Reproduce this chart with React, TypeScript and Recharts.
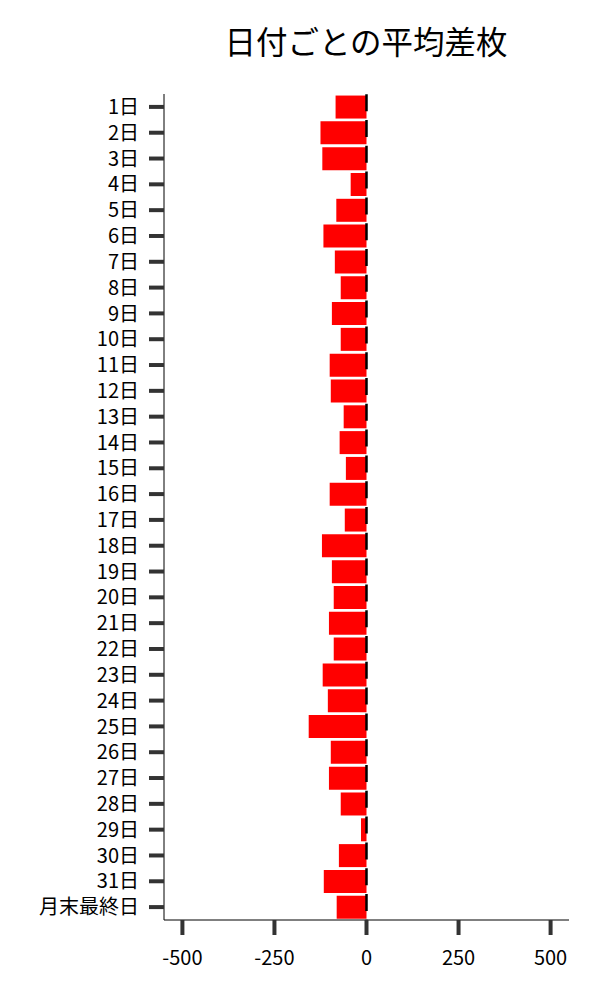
import { BarChart, Bar, XAxis, YAxis, ReferenceLine } from 'recharts';

const days = [
  '1日', '2日', '3日', '4日', '5日', '6日', '7日', '8日', '9日', '10日',
  '11日', '12日', '13日', '14日', '15日', '16日', '17日', '18日', '19日', '20日',
  '21日', '22日', '23日', '24日', '25日', '26日', '27日', '28日', '29日', '30日',
  '31日', '月末最終日',
];

const avgDiff = [
  -84, -125, -120, -43, -82, -117, -86, -70, -94, -70,
  -100, -97, -62, -73, -56, -100, -59, -121, -94, -89,
  -102, -89, -119, -105, -157, -97, -102, -70, -15, -75,
  -116, -81,
];

const xTicks = [-500, -250, 0, 250, 500];

const FONT = '"Noto Sans CJK JP", "Noto Sans", sans-serif';

export default function App() {
  const data = days.map((day, i) => ({ day, value: avgDiff[i] }));

  return (
    <div style={{ position: 'absolute', left: 0, top: 0, width: 600, height: 1000, background: '#fff' }}>
      <div
        style={{
          position: 'absolute',
          left: 166,
          width: 400,
          top: 20,
          textAlign: 'center',
          fontFamily: FONT,
          fontSize: 31.5,
          color: '#000',
          lineHeight: '40px',
          whiteSpace: 'nowrap',
        }}
      >
        日付ごとの平均差枚
      </div>
      <BarChart
        width={600}
        height={1000}
        data={data}
        layout="vertical"
        margin={{ top: 94, right: 31, bottom: 30, left: 0 }}
        barCategoryGap="6%"
      >
        <XAxis
          type="number"
          domain={[-550, 550]}
          ticks={xTicks}
          height={50}
          stroke="#000"
          tickSize={15}
          tickMargin={16}
          tickLine={{ stroke: '#333', strokeWidth: 4 }}
          tick={{ fill: '#000', fontSize: 20, fontFamily: FONT }}
        />
        <YAxis
          type="category"
          dataKey="day"
          width={164}
          stroke="#000"
          tickSize={15}
          tickMargin={10}
          interval={0}
          tickLine={{ stroke: '#333', strokeWidth: 4 }}
          tick={{ fill: '#000', fontSize: 20, fontFamily: FONT }}
        />
        <Bar dataKey="value" fill="#ff0000" isAnimationActive={false} />
        <ReferenceLine
          x={0}
          stroke="#000"
          strokeWidth={2.5}
          strokeDasharray="17 8.8"
          strokeDashoffset={16.8}
        />
      </BarChart>
    </div>
  );
}
